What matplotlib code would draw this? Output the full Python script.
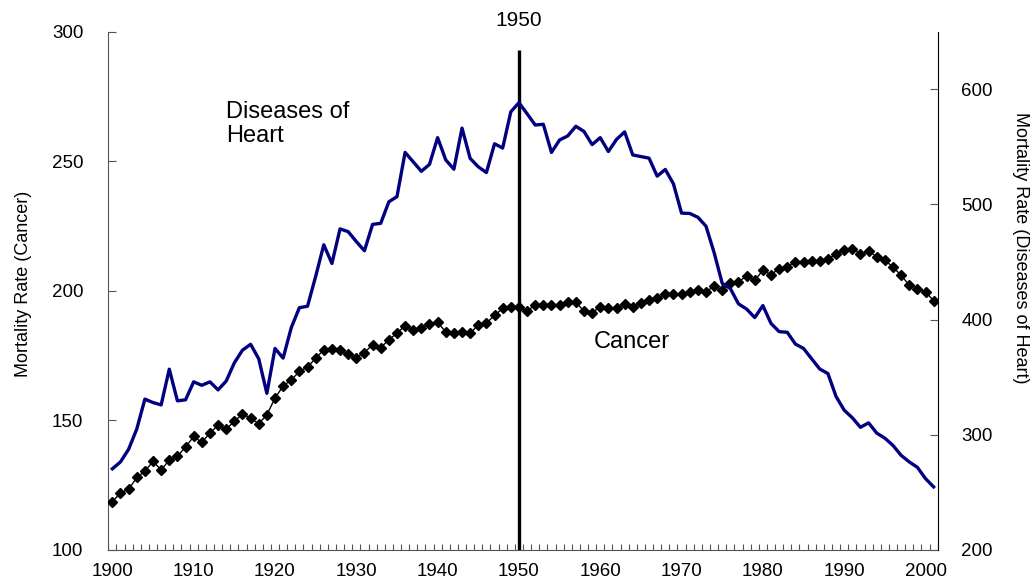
import matplotlib
matplotlib.use("Agg")
import matplotlib.pyplot as plt
import numpy as np

plt.rcParams['font.family'] = ['Liberation Sans', 'DejaVu Sans']

years = list(range(1900, 2002))

cancer = [118.7, 122.0, 123.4, 128.0, 130.4, 134.2, 130.9, 134.7, 136.2, 139.7,
          143.8, 141.5, 145.2, 148.1, 146.7, 149.6, 152.5, 150.9, 148.7, 152.2,
          158.6, 163.3, 165.6, 168.9, 170.6, 174.0, 177.2, 177.6, 177.3, 175.6,
          174.2, 176.2, 179.2, 178.0, 181.2, 183.6, 186.6, 184.9, 185.8, 187.3,
          187.8, 184.2, 183.6, 184.2, 183.6, 186.9, 187.6, 190.5, 193.2, 193.8,
          193.8, 192.2, 194.5, 194.5, 194.5, 194.5, 195.6, 195.6, 192.2, 191.6,
          193.8, 193.3, 193.3, 194.9, 193.8, 195.3, 196.6, 197.2, 198.6, 198.6,
          198.6, 199.6, 200.5, 199.6, 201.8, 200.2, 202.9, 203.6, 205.6, 204.0,
          208.0, 206.2, 208.6, 209.3, 211.3, 211.3, 211.6, 211.6, 212.2, 214.2,
          215.8, 216.2, 214.2, 215.3, 213.2, 211.8, 209.2, 206.0, 202.2, 200.9,
          199.6, 196.2]

heart = [270.5, 276.5, 287.5, 305.0, 331.0, 328.0, 326.0, 357.0, 329.5, 330.4,
         346.0, 343.0, 346.0, 339.0, 346.7, 362.5, 373.5, 378.6, 366.0, 336.0,
         375.0, 366.6, 393.0, 410.4, 411.6, 437.5, 465.0, 448.8, 478.8, 476.4,
         467.8, 459.8, 482.7, 483.6, 502.3, 506.8, 545.2, 537.0, 528.8, 534.8,
         558.0, 538.7, 530.6, 566.3, 540.0, 532.7, 527.7, 552.7, 549.0, 580.4,
         588.4, 578.8, 569.0, 569.6, 545.2, 556.0, 559.5, 567.9, 563.4, 552.0,
         558.0, 546.0, 556.5, 563.0, 543.0, 541.6, 540.2, 524.6, 530.4, 517.9,
         492.5, 492.2, 488.9, 481.2, 458.3, 431.5, 427.0, 413.7, 409.2, 401.8,
         412.2, 396.7, 389.6, 389.0, 378.8, 375.0, 366.0, 357.1, 353.2, 333.3,
         321.4, 314.8, 306.5, 310.4, 301.5, 297.1, 290.8, 282.2, 276.5, 271.8,
         262.0, 254.8]

x_labels = list(range(1900, 2001, 10))
left_ticks = [100, 150, 200, 250, 300]
right_ticks = [200, 300, 400, 500, 600]

W, H = 1034, 583
fig = plt.figure(figsize=(W / 100, H / 100), dpi=100)
ax = fig.add_axes([108.3 / W, 1 - 550 / H, (937.7 - 108.3) / W, (550 - 31.7) / H])
ax2 = ax.twinx()

ax.set_xlim(1899.5, 2001.5)
ax.set_ylim(100, 300)
ax2.set_ylim(200, 650)

# Cancer series (left axis)
ax.plot(years, cancer, color='black', lw=1.0, marker='D', markersize=4.8,
        markerfacecolor='black', markeredgecolor='black', zorder=3)

# Heart disease series (right axis)
ax2.plot(years, heart, color='#000080', lw=2.4, zorder=3)

# 1950 vertical line
ax.vlines(1950, 100, 293, color='black', lw=2.4, zorder=4)
ax.text(1950, 304.5, '1950', ha='center', va='center', fontsize=15)

# annotations
ax.text(1914.0, 273.2, 'Diseases of\nHeart', ha='left', va='top', fontsize=17,
        linespacing=1.1)
ax.text(1959.2, 180.2, 'Cancer', ha='left', va='center', fontsize=17)

# ticks
ax.set_xticks(x_labels)
ax.set_xticklabels([str(v) for v in x_labels])
ax.set_xticks(np.arange(1899.5, 2001.6, 1.0), minor=True)
ax.tick_params(axis='x', which='major', length=0, labelsize=13.5, pad=9)
ax.tick_params(axis='x', which='minor', direction='in', length=4, width=0.8,
               color='#555555')

ax.set_yticks(left_ticks)
ax.tick_params(axis='y', which='major', direction='in', length=6, width=0.8,
               labelsize=13.5, pad=18, color='#555555')
ax2.set_yticks(right_ticks)
ax2.tick_params(axis='y', which='major', direction='in', length=6, width=0.8,
                labelsize=13.5, pad=17, color='#555555')

for s in ['top']:
    ax.spines[s].set_visible(False)
    ax2.spines[s].set_visible(False)
ax.spines['left'].set_color('#555555')
ax.spines['bottom'].set_color('#555555')
ax2.spines['right'].set_color('black')
ax2.spines['left'].set_visible(False)
ax2.spines['bottom'].set_visible(False)
ax.spines['right'].set_visible(False)

fig.text(24 / W, 1 - 284 / H, 'Mortality Rate (Cancer)', rotation=90,
         ha='center', va='center', fontsize=13)
fig.text(1020 / W, 1 - 248 / H, 'Mortality Rate (Diseases of Heart)', rotation=-90,
         ha='center', va='center', fontsize=13)

fig.savefig('out.png', dpi=100)
